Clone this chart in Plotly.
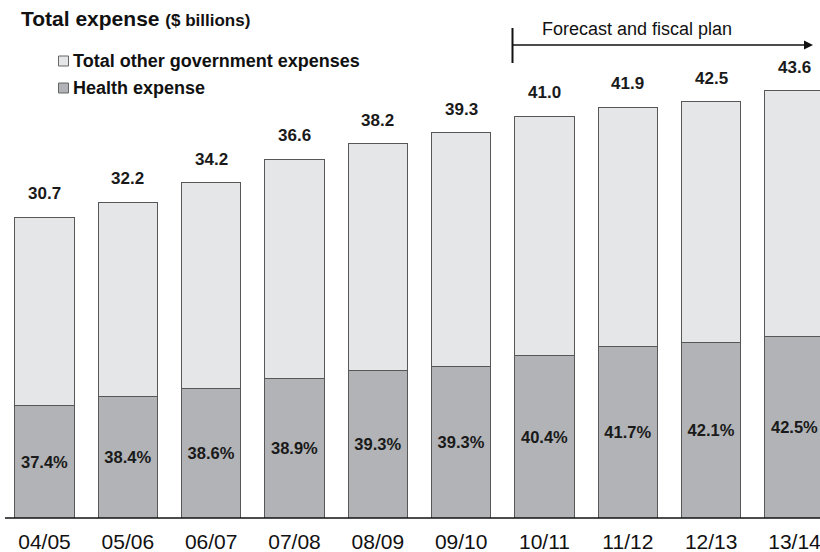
import plotly.graph_objects as go

# Fiscal years, total expense ($ billions) and health share of total (%)
years = ["04/05", "05/06", "06/07", "07/08", "08/09", "09/10", "10/11", "11/12", "12/13", "13/14"]
total_expense = [30.7, 32.2, 34.2, 36.6, 38.2, 39.3, 41.0, 41.9, 42.5, 43.6]
health_share = [37.4, 38.4, 38.6, 38.9, 39.3, 39.3, 40.4, 41.7, 42.1, 42.5]

health_expense = [t * s / 100 for t, s in zip(total_expense, health_share)]
other_expense = [t - h for t, h in zip(total_expense, health_expense)]

FONT = "Arial, Liberation Sans, sans-serif"
W, H = 820, 552
PLOT_H = 518  # plot area height in px (top margin 0)

HEALTH_FILL = "#b1b3b6"
OTHER_FILL = "#e5e6e8"
EDGE = "#575757"

def px(x):
    return x / W

def py(y):
    return (PLOT_H - y) / PLOT_H

fig = go.Figure()

fig.add_trace(go.Bar(
    x=years, y=health_expense, name="Health expense",
    marker=dict(color=HEALTH_FILL, line=dict(color=EDGE, width=1)),
    width=0.714,
    text=[f"{s:.1f}%" for s in health_share],
    textposition="inside", insidetextanchor="middle",
    textfont=dict(family=FONT, size=16.5, color="#1a1a1a", weight="bold"),
    constraintext="none",
    hoverinfo="skip",
))
fig.add_trace(go.Bar(
    x=years, y=other_expense, name="Total other government expenses",
    marker=dict(color=OTHER_FILL, line=dict(color=EDGE, width=1)),
    width=0.714,
    hoverinfo="skip",
))

annotations = []
# Total labels above each bar
for yr, t in zip(years, total_expense):
    annotations.append(dict(
        x=yr, y=t, xref="x", yref="y", text=f"<b>{t:.1f}</b>",
        showarrow=False, yanchor="bottom", yshift=12,
        font=dict(family=FONT, size=17, color="#1a1a1a"),
    ))

# Title
annotations.append(dict(
    x=px(19), y=py(18), xref="paper", yref="paper", xanchor="left", yanchor="middle",
    text="<b>Total expense</b> <b><span style='font-size:17px'>($ billions)</span></b>",
    showarrow=False, font=dict(family=FONT, size=21, color="#111111"),
))

# Legend entries
legend_rows = [("Total other government expenses", OTHER_FILL, 61),
               ("Health expense", HEALTH_FILL, 88)]
shapes = []
for label, fill, yc in legend_rows:
    shapes.append(dict(type="rect", xref="paper", yref="paper",
                       x0=px(58.5), x1=px(68.5), y0=py(yc - 5), y1=py(yc + 5),
                       fillcolor=fill, line=dict(color="#666666", width=1)))
    annotations.append(dict(
        x=px(71), y=py(yc), xref="paper", yref="paper", xanchor="left", yanchor="middle",
        text=f"<b>{label}</b>", showarrow=False,
        font=dict(family=FONT, size=18, color="#111111"),
    ))

# Forecast bracket and arrow
annotations.append(dict(
    x=px(540), y=py(29), xref="paper", yref="paper", xanchor="left", yanchor="middle",
    text="Forecast and fiscal plan", showarrow=False,
    font=dict(family=FONT, size=18, color="#111111"),
))
shapes.append(dict(type="line", xref="paper", yref="paper",
                   x0=px(512.5), x1=px(512.5), y0=py(28), y1=py(63),
                   line=dict(color="#111111", width=2)))
shapes.append(dict(type="line", xref="paper", yref="paper",
                   x0=px(512.5), x1=px(806), y0=py(45), y1=py(45),
                   line=dict(color="#111111", width=1.5)))
shapes.append(dict(type="path", xref="paper", yref="paper",
                   path=f"M {px(813)},{py(45)} L {px(804)},{py(40.5)} L {px(804)},{py(49.5)} Z",
                   fillcolor="#111111", line=dict(color="#111111", width=0)))

# Baseline
shapes.append(dict(type="line", xref="paper", yref="paper",
                   x0=px(5), x1=1, y0=0, y1=0,
                   line=dict(color="#111111", width=1.5)))

fig.update_layout(
    width=W, height=H,
    margin=dict(l=0, r=0, t=0, b=H - PLOT_H),
    barmode="stack",
    showlegend=False,
    plot_bgcolor="white", paper_bgcolor="white",
    annotations=annotations, shapes=shapes,
    xaxis=dict(
        type="category", range=[-0.534, 9.306],
        showgrid=False, zeroline=False, showline=False, ticks="",
        tickfont=dict(family=FONT, size=21, color="#111111"),
        ticklabelstandoff=9,
    ),
    yaxis=dict(range=[0, PLOT_H / 9.8], visible=False, showgrid=False, zeroline=False),
)

fig.write_html("out.html")
